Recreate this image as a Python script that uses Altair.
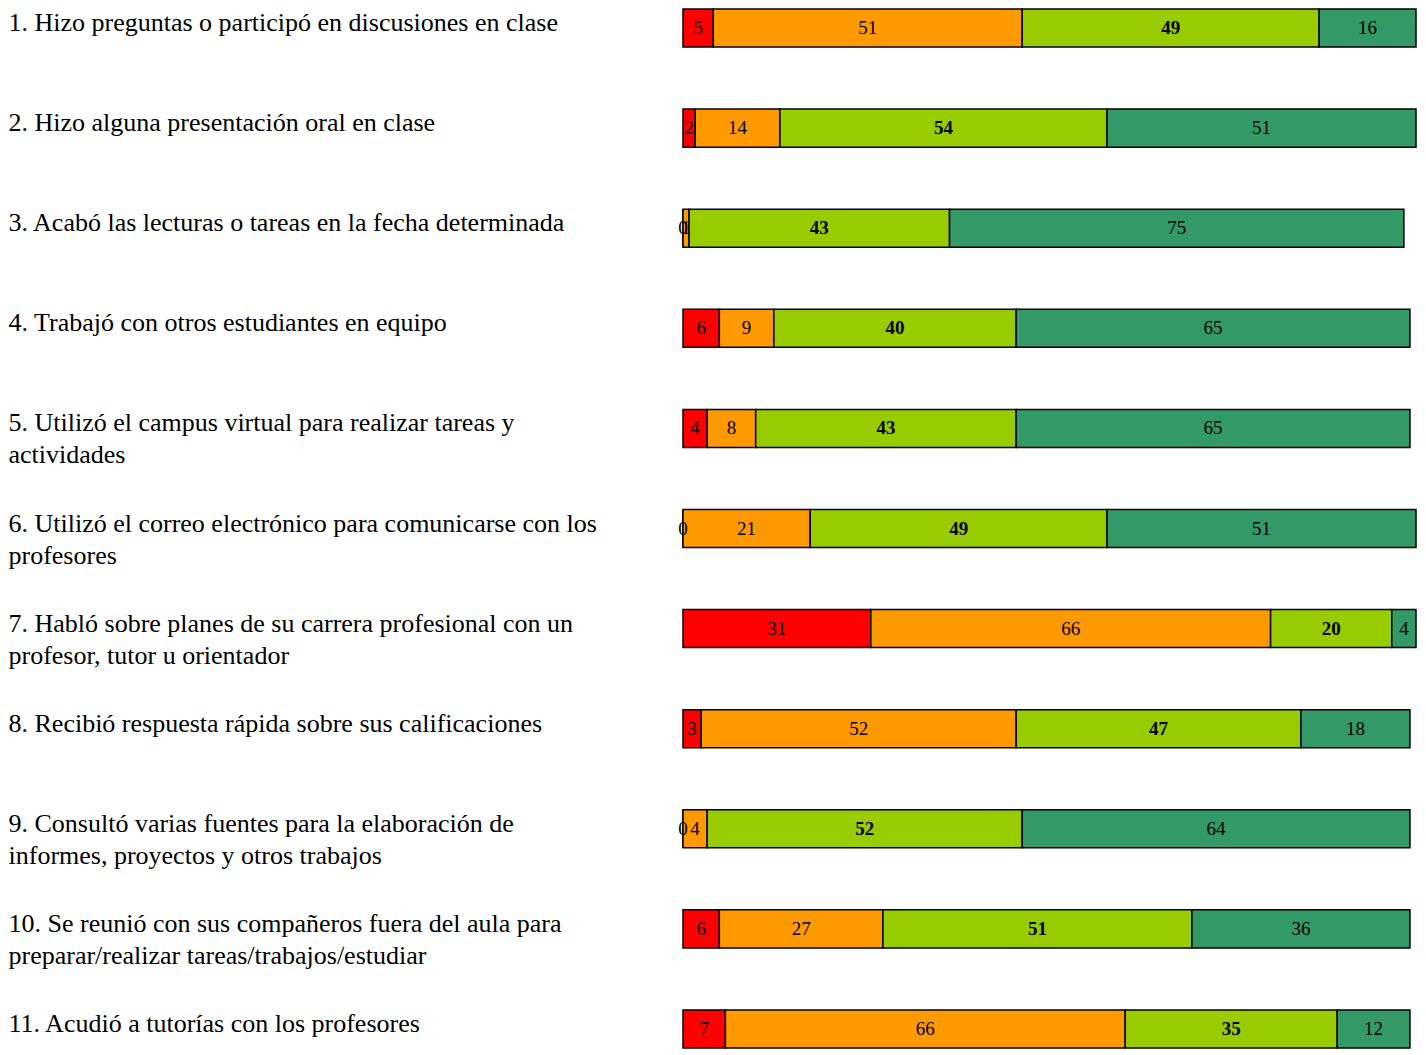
import altair as alt
import pandas as pd

labels = [
    "1. Hizo preguntas o participó en discusiones en clase",
    "2. Hizo alguna presentación oral en clase",
    "3. Acabó las lecturas o tareas en la fecha determinada",
    "4. Trabajó con otros estudiantes en equipo",
    "5. Utilizó el campus virtual para realizar tareas y|actividades",
    "6. Utilizó el correo electrónico para comunicarse con los|profesores",
    "7. Habló sobre planes de su carrera profesional con un|profesor, tutor u orientador",
    "8. Recibió respuesta rápida sobre sus calificaciones",
    "9. Consultó varias fuentes para la elaboración de|informes, proyectos y otros trabajos",
    "10. Se reunió con sus compañeros fuera del aula para|preparar/realizar tareas/trabajos/estudiar",
    "11. Acudió a tutorías con los profesores",
]
red = [5, 2, 0, 6, 4, 0, 31, 3, 0, 6, 7]
orange = [51, 14, 1, 9, 8, 21, 66, 52, 4, 27, 66]
green = [49, 54, 43, 40, 43, 49, 20, 47, 52, 51, 35]
teal = [16, 51, 75, 65, 65, 51, 4, 18, 64, 36, 12]

series_names = ["Nunca", "A veces", "A menudo", "Muy a menudo"]
series_colors = ["#FF0000", "#FF9900", "#99CC00", "#339966"]
series_values = [red, orange, green, teal]

rows = []
for si, (name, vals) in enumerate(zip(series_names, series_values)):
    for li, lab in enumerate(labels):
        rows.append({"label": lab, "serie": name, "order": si, "value": vals[li]})
df = pd.DataFrame(rows)

y_enc = alt.Y(
    "label:N",
    sort=labels,
    scale=alt.Scale(paddingInner=0.62, paddingOuter=0),
    axis=alt.Axis(
        title=None, ticks=False, domain=False,
        labelAlign="left", labelPadding=675, labelLimit=700,
        labelFont="Liberation Serif", labelFontSize=26, labelColor="#000000",
        labelLineHeight=32, labelOffset=-5,
        labelExpr="split(datum.label, '|')",
    ),
)
x_scale = alt.Scale(domain=[0, 121], nice=False, zero=True)

base = alt.Chart(df).transform_stack(
    stack="value", groupby=["label"], as_=["x0", "x1"],
    sort=[alt.SortField("order", order="ascending")],
).transform_calculate(mid="(datum.x0 + datum.x1) / 2")

bars = base.mark_bar(stroke="#000000", strokeWidth=1.5).encode(
    x=alt.X("x0:Q", scale=x_scale, axis=None),
    x2="x1:Q",
    y=y_enc,
    color=alt.Color("serie:N", scale=alt.Scale(domain=series_names, range=series_colors), legend=None),
)

text_normal = base.transform_filter("datum.order != 2").mark_text(
    font="Liberation Serif", fontSize=19, color="#000000", baseline="middle", align="center"
).encode(
    x=alt.X("mid:Q", scale=x_scale, axis=None),
    y=alt.Y("label:N", sort=labels),
    text="value:Q",
)
text_bold = base.transform_filter("datum.order == 2").mark_text(
    font="Liberation Serif", fontSize=19, fontWeight="bold", color="#000000", baseline="middle", align="center"
).encode(
    x=alt.X("mid:Q", scale=x_scale, axis=None),
    y=alt.Y("label:N", sort=labels),
    text="value:Q",
)

chart = alt.layer(bars, text_normal, text_bold).properties(
    width=733, height=1039, padding={"left": 0, "top": 0, "right": 0, "bottom": 0}
).configure_view(stroke=None)

chart.save("out.html", embed_options={"renderer": "svg", "actions": False})
